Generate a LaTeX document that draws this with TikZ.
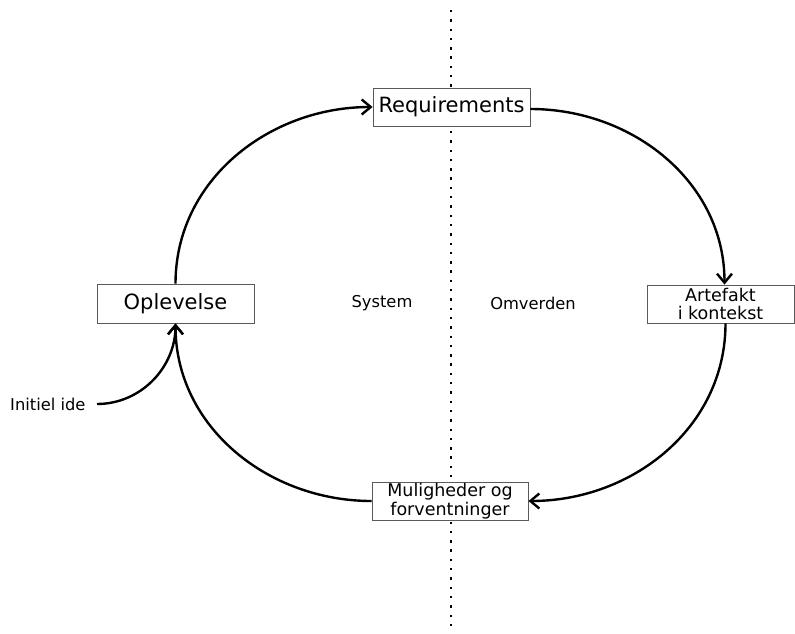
\documentclass[tikz,border=0pt]{standalone}
\usepackage{fontspec}
\setmainfont{DejaVu Sans}
\usetikzlibrary{arrows.meta}
\begin{document}
\begin{tikzpicture}[x=1pt,y=-1pt,
  box/.style={draw=black!65,line width=0.9pt,fill=white,inner sep=0pt,align=center},
  flow/.style={line width=2.4pt,-{Straight Barb[length=9pt,width=15pt]}},
  bigtext/.style={font=\fontsize{21}{24}\selectfont},
  midtext/.style={font=\fontsize{17.5}{18.5}\selectfont},
  smalltext/.style={font=\fontsize{16.3}{19}\selectfont}]
  \useasboundingbox (0,0) rectangle (795,634);

  % boundary between system and surroundings
  \draw[line width=2.4pt,dash pattern=on 2.4pt off 6.9pt] (451,10) -- (451,632);

  % boxes
  \node[box,bigtext,minimum width=157pt,minimum height=38pt] (req) at (451.5,107) {Requirements};
  \node[box,bigtext,minimum width=157pt,minimum height=39pt] (opl) at (175.5,303.5) {Oplevelse};
  \node[box,midtext,minimum width=147pt,minimum height=38pt] (art) at (720.5,304) {Artefakt\\i kontekst};
  \node[box,midtext,minimum width=156pt,minimum height=38pt] (mul) at (450,501) {Muligheder og\\forventninger};

  % region labels
  \node[smalltext] (sys) at (382,303) {System};
  \node[smalltext] (omv) at (533,303) {Omverden};
  \node[smalltext,anchor=east] (ide) at (89,404) {Initiel ide};

  % cycle
  \draw[flow] (opl.north) to[out=90,in=180] (req.west);
  \draw[flow] ([yshift=-2pt]req.east) to[out=0,in=90] ([xshift=4pt]art.north);
  \draw[flow] ([xshift=5pt]art.south) to[out=-90,in=0] (mul.east);
  \draw[flow] (mul.west) to[out=180,in=-90] (opl.south);
  \draw[flow] ([xshift=8pt]ide.east) to[out=0,in=-90] (opl.south);
\end{tikzpicture}
\end{document}
